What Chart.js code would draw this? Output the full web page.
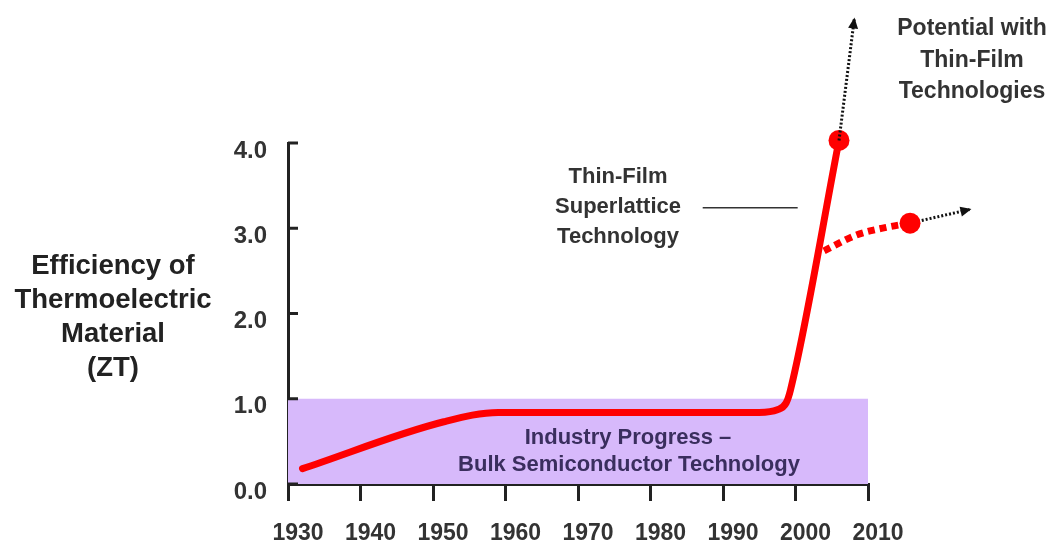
<!DOCTYPE html>
<html>
<head>
<meta charset="utf-8">
<script src="https://cdn.jsdelivr.net/npm/chart.js@4.4.1/dist/chart.umd.min.js"></script>
<style>
  html, body { margin: 0; padding: 0; background: #fff; }
  #wrap { width: 1057px; height: 545px; }
</style>
</head>
<body>
<div id="wrap"><canvas id="zt"></canvas></div>
<script>
// axis ranges and tick labels
const yearTicks = [1930, 1940, 1950, 1960, 1970, 1980, 1990, 2000, 2010];
const ztTicks = [0, 1, 2, 3, 4];

// bulk semiconductor band (ZT up to 1.0)
const bandYears = [1930, 2010];
const bandZT = [1.0, 1.0];

// measured progress, ending with the superlattice jump
const mainYears = [1932, 1951.5, 1959, 1995, 1997.5, 1998.7, 1999.3, 2006];
const mainZT = [0.18, 0.73, 0.84, 0.84, 0.87, 0.95, 1.1, 4.03];

// dashed branch off the jump (listed from its end point back to the jump)
const branchYears = [2015.8, 2012.5, 2008.4, 2003.6];
const branchZT = [3.06, 3.01, 2.92, 2.72];

// "potential" arrows
const arrowUpYears = [2006, 2008.1];
const arrowUpZT = [4.03, 5.45];
const arrowRightYears = [2015.8, 2024];
const arrowRightZT = [3.06, 3.22];

// leader line from the superlattice label
const leaderYears = [1987.2, 2000.3];
const leaderZT = [3.24, 3.24];

function pts(xs, ys) {
  return xs.map((x, i) => ({ x: x, y: ys[i] }));
}

const RED = 'rgb(255,0,0)';
const FONT = '"Liberation Sans", Arial, sans-serif';

function dotAt(idx, r) {
  return ctx => {
    const last = ctx.dataset.data.length - 1;
    return ctx.dataIndex === (idx < 0 ? last : idx) ? r : 0;
  };
}

const arrowSets = [3, 4];

const extras = {
  id: 'extras',
  afterDatasetsDraw(chart) {
    const c = chart.ctx;
    const xs = chart.scales.x, ys = chart.scales.y;

    // branch end dot sits past the x range, so the point is drawn without the area check
    chart.getDatasetMeta(2).data[0].draw(c);

    // inner tick marks on the y axis
    c.save();
    c.strokeStyle = '#222';
    c.lineWidth = 3;
    ztTicks.forEach(v => {
      const py = ys.getPixelForValue(v);
      c.beginPath();
      c.moveTo(xs.left, py);
      c.lineTo(xs.left + 10, py);
      c.stroke();
    });

    // arrow heads
    c.fillStyle = '#111';
    arrowSets.forEach(i => {
      const d = chart.getDatasetMeta(i).data;
      const a = d[d.length - 2], b = d[d.length - 1];
      const ang = Math.atan2(b.y - a.y, b.x - a.x);
      c.save();
      c.translate(b.x, b.y);
      c.rotate(ang);
      c.beginPath();
      c.moveTo(2, 0);
      c.lineTo(-9, -5);
      c.lineTo(-9, 5);
      c.closePath();
      c.fill();
      c.restore();
    });

    // text blocks
    c.textAlign = 'center';
    c.textBaseline = 'middle';
    c.fillStyle = '#222';
    c.font = 'bold 27.5px ' + FONT;
    ['Efficiency of', 'Thermoelectric', 'Material', '(ZT)'].forEach((t, i) => {
      c.fillText(t, 113, 266 + i * 34);
    });

    c.fillStyle = '#333';
    c.font = 'bold 22px ' + FONT;
    ['Thin-Film', 'Superlattice', 'Technology'].forEach((t, i) => {
      c.fillText(t, 618, 177 + i * 30);
    });

    c.font = 'bold 23px ' + FONT;
    ['Potential with', 'Thin-Film', 'Technologies'].forEach((t, i) => {
      c.fillText(t, 972, 29 + i * 31.5);
    });

    c.fillStyle = '#3a2e5e';
    c.font = 'bold 22px ' + FONT;
    c.fillText('Industry Progress \u2013', 628, 438);
    c.fillText('Bulk Semiconductor Technology', 629, 465);
    c.restore();
  }
};

new Chart(document.getElementById('zt'), {
  type: 'line',
  data: {
    datasets: [
      {
        data: pts(bandYears, bandZT),
        fill: 'origin',
        backgroundColor: '#d7b9fb',
        borderWidth: 0,
        pointRadius: 0,
        order: 9
      },
      {
        data: pts(mainYears, mainZT),
        borderColor: RED,
        backgroundColor: RED,
        borderWidth: 7,
        cubicInterpolationMode: 'monotone',
        pointRadius: dotAt(-1, 10.5),
        pointBorderWidth: 0,
        borderCapStyle: 'round',
        clip: false,
        order: 2
      },
      {
        data: pts(branchYears, branchZT),
        borderColor: RED,
        backgroundColor: RED,
        borderWidth: 7,
        borderDash: [7, 5],
        cubicInterpolationMode: 'monotone',
        pointRadius: dotAt(0, 10.5),
        pointBorderWidth: 0,
        clip: false,
        order: 3
      },
      {
        data: pts(arrowUpYears, arrowUpZT),
        borderColor: '#111',
        borderWidth: 3,
        borderDash: [2, 2],
        pointRadius: 0,
        clip: false,
        order: 1
      },
      {
        data: pts(arrowRightYears, arrowRightZT),
        borderColor: '#111',
        borderWidth: 3,
        borderDash: [2, 2],
        pointRadius: 0,
        clip: false,
        order: 1
      },
      {
        data: pts(leaderYears, leaderZT),
        borderColor: '#333',
        borderWidth: 1.5,
        pointRadius: 0,
        clip: false,
        order: 1
      }
    ]
  },
  options: {
    responsive: true,
    maintainAspectRatio: false,
    animation: false,
    events: [],
    layout: { padding: { left: 0, right: 189, top: 143, bottom: 0 } },
    plugins: { legend: { display: false }, tooltip: { enabled: false } },
    scales: {
      x: {
        type: 'linear',
        min: yearTicks[0],
        max: yearTicks[yearTicks.length - 1],
        afterBuildTicks: s => { s.ticks = yearTicks.map(v => ({ value: v })); },
        afterFit: s => { s.height = 61; },
        border: { display: true, color: '#222', width: 3 },
        grid: { drawOnChartArea: false, drawTicks: true, tickLength: 17, lineWidth: 3, color: '#222' },
        ticks: {
          color: '#333',
          font: { family: FONT, size: 23, weight: 'bold' },
          padding: 19,
          labelOffset: 10,
          maxRotation: 0,
          autoSkip: false,
          callback: v => String(v)
        }
      },
      y: {
        min: 0,
        max: 4,
        afterBuildTicks: s => { s.ticks = ztTicks.map(v => ({ value: v })); },
        afterFit: s => { s.width = 288; },
        border: { display: true, color: '#222', width: 3 },
        grid: { drawOnChartArea: false, drawTicks: false },
        ticks: {
          color: '#333',
          font: { family: FONT, size: 24, weight: 'bold' },
          padding: 21,
          labelOffset: 8,
          callback: v => v.toFixed(1)
        }
      }
    }
  },
  plugins: [extras]
});
</script>
</body>
</html>
